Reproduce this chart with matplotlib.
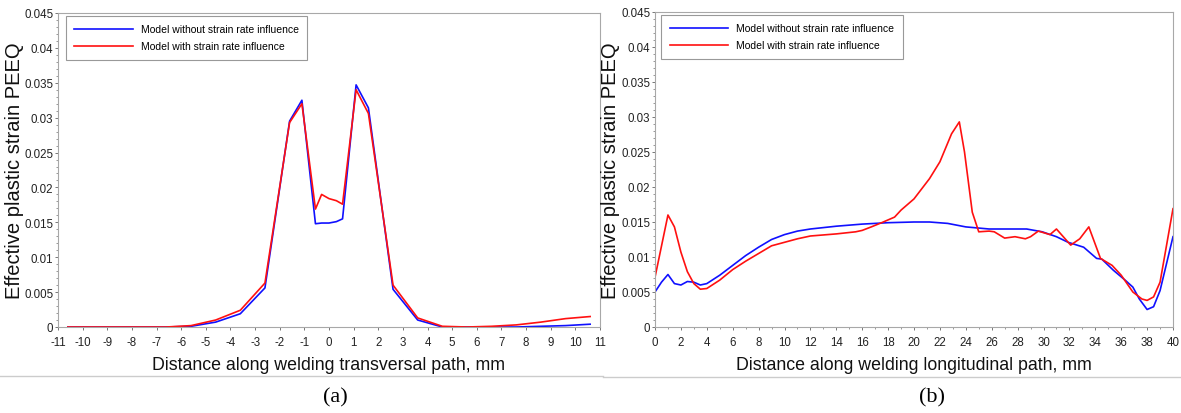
import matplotlib.pyplot as plt
from matplotlib.lines import Line2D
from matplotlib.ticker import FuncFormatter, MultipleLocator, AutoMinorLocator

plt.rcParams['font.family'] = ['Liberation Sans Narrow', 'Liberation Sans', 'DejaVu Sans']
plt.rcParams['axes.unicode_minus'] = False

# (a) transversal path
x_tr = [-10.6, -9.6, -8.6, -7.6, -6.6, -5.6, -4.6, -3.6, -2.6, -1.6, -1.1, -0.55, -0.3, 0.0,
        0.3, 0.55, 1.1, 1.6, 2.6, 3.6, 4.6, 5.6, 6.6, 7.6, 8.6, 9.6, 10.6]
peeq_tr_no_rate = [0, 0, 0, 0, 0, 0.0001, 0.0007, 0.0019, 0.0056, 0.0295, 0.0325, 0.0148, 0.0149, 0.0149,
                   0.0151, 0.0155, 0.0347, 0.0314, 0.0054, 0.0010, 0.0, 0, 0, 0, 0.0001, 0.0002, 0.0004]
peeq_tr_rate = [0, 0, 0, 0, 0, 0.0002, 0.0010, 0.0024, 0.0063, 0.0293, 0.0320, 0.0169, 0.0190, 0.0184,
                0.0181, 0.0176, 0.0340, 0.0306, 0.0060, 0.0013, 0.0001, 0, 0.0001, 0.0003, 0.0007, 0.0012, 0.0015]

# (b) longitudinal path
x_lo_no_rate = [0, 0.5, 1.0, 1.5, 2.0, 2.5, 3.0, 3.5, 4.0, 5, 6, 7, 8, 9, 10, 11, 12, 14, 16, 18,
                20, 21.2, 22.6, 24, 25.8, 27.6, 28.7, 29.9, 31, 31.9, 33.1, 34.1, 34.5, 35.4,
                36.3, 36.9, 37.4, 38.0, 38.5, 39.0, 40]
peeq_lo_no_rate = [0.0050, 0.0064, 0.0075, 0.0062, 0.0060, 0.0065, 0.0064, 0.0060, 0.0062, 0.0074,
                   0.0088, 0.0102, 0.0114, 0.0125, 0.0132, 0.0137, 0.0140, 0.0144, 0.0147, 0.0149,
                   0.0150, 0.0150, 0.0148, 0.0143, 0.0140, 0.0140, 0.0140, 0.0136, 0.0129, 0.0121,
                   0.0114, 0.0098, 0.0097, 0.0081, 0.0067, 0.0057, 0.0040, 0.0025, 0.0029, 0.0052, 0.0129]
x_lo_rate = [0, 1.0, 1.5, 2.0, 2.5, 3.0, 3.5, 4.0, 5, 6, 7, 8, 9, 10, 11, 12, 14, 15.5, 16, 16.7,
             17.5, 18.5, 19, 20, 21.2, 22, 22.9, 23.5, 23.9, 24.5, 25.0, 25.8, 26.2, 27, 27.8,
             28.6, 29, 29.6, 30.5, 31.0, 32.1, 32.8, 33.5, 34.4, 35.3, 36, 36.9, 37.6, 38.0,
             38.5, 39, 40]
peeq_lo_rate = [0.0071, 0.0160, 0.0143, 0.0107, 0.0079, 0.0062, 0.0054, 0.0055, 0.0067, 0.0082,
                0.0094, 0.0105, 0.0116, 0.0121, 0.0126, 0.0130, 0.0133, 0.0136, 0.0138, 0.0143,
                0.0149, 0.0157, 0.0167, 0.0183, 0.0212, 0.0236, 0.0276, 0.0293, 0.0250, 0.0164,
                0.0136, 0.0137, 0.0136, 0.0127, 0.0129, 0.0126, 0.0129, 0.0137, 0.0132, 0.0140,
                0.0117, 0.0126, 0.0143, 0.0098, 0.0088, 0.0074, 0.0050, 0.0040, 0.0038, 0.0043,
                0.0064, 0.0169]

label_no_rate = 'Model without strain rate influence'
label_rate = 'Model with strain rate influence'
ylabel = 'Effective plastic strain PEEQ'

blue = '#1010ff'
red = '#ff1010'
spine_col = '#a8a8a8'

fig = plt.figure(figsize=(11.81, 4.14), dpi=100)
ax1 = fig.add_axes([58 / 1181, 1 - 328 / 414, 542 / 1181, 314 / 414])
ax2 = fig.add_axes([655 / 1181, 1 - 328 / 414, 518 / 1181, 315 / 414])


def style(ax, xlabel, leg_x, ylab_x):
    ax.set_ylim(0, 0.045)
    ax.yaxis.set_major_locator(MultipleLocator(0.005))
    ax.yaxis.set_minor_locator(AutoMinorLocator(5))
    ax.yaxis.set_major_formatter(FuncFormatter(lambda v, p: '%g' % round(v, 4)))
    for s in ax.spines.values():
        s.set_color(spine_col)
        s.set_linewidth(0.8)
    ax.tick_params(which='major', length=2.5, width=0.7, color='#777777', labelsize=8.3, colors='#222222')
    ax.tick_params(axis='y', which='major', pad=1)
    ax.tick_params(axis='x', which='major', pad=4)
    ax.tick_params(which='minor', length=1.2, width=0.6, color='#888888')
    ax.set_xlabel(xlabel, fontsize=12.8, labelpad=6, color='#111111')
    ax.set_ylabel(ylabel, fontsize=14.5, color='#111111')
    ax.yaxis.set_label_coords(ylab_x, 0.5)
    leg = ax.legend(loc='upper left', bbox_to_anchor=(leg_x, 0.99), borderaxespad=0,
                    fontsize=7.5, handlelength=5.6, handletextpad=0.8, labelspacing=0.65,
                    borderpad=0.8, fancybox=False, framealpha=1)
    leg.get_frame().set_edgecolor('#999999')
    leg.get_frame().set_linewidth(0.8)


ax1.plot(x_tr, peeq_tr_no_rate, color=blue, lw=1.2, label=label_no_rate)
ax1.plot(x_tr, peeq_tr_rate, color=red, lw=1.2, label=label_rate)
ax1.set_xlim(-11, 11)
ax1.set_xticks(range(-11, 12))
style(ax1, 'Distance along welding transversal path, mm', 0.015, -0.062)

ax2.plot(x_lo_no_rate, peeq_lo_no_rate, color=blue, lw=1.2, label=label_no_rate)
ax2.plot(x_lo_rate, peeq_lo_rate, color=red, lw=1.2, label=label_rate)
ax2.set_xlim(0, 40)
ax2.xaxis.set_major_locator(MultipleLocator(2))
ax2.xaxis.set_minor_locator(MultipleLocator(1))
style(ax2, 'Distance along welding longitudinal path, mm', 0.012, -0.067)

# panel frames and captions
fig.add_artist(Line2D([0, 603 / 1181], [1 - 377 / 414] * 2, color='#cccccc', lw=1))
fig.add_artist(Line2D([603 / 1181, 1], [1 - 378 / 414] * 2, color='#cccccc', lw=1))
fig.text(335 / 1181, 1 - 398 / 414, '(a)', family='Liberation Serif', fontsize=16, ha='center', va='center')
fig.text(932 / 1181, 1 - 398 / 414, '(b)', family='Liberation Serif', fontsize=16, ha='center', va='center')

fig.savefig('out.png', dpi=100)
